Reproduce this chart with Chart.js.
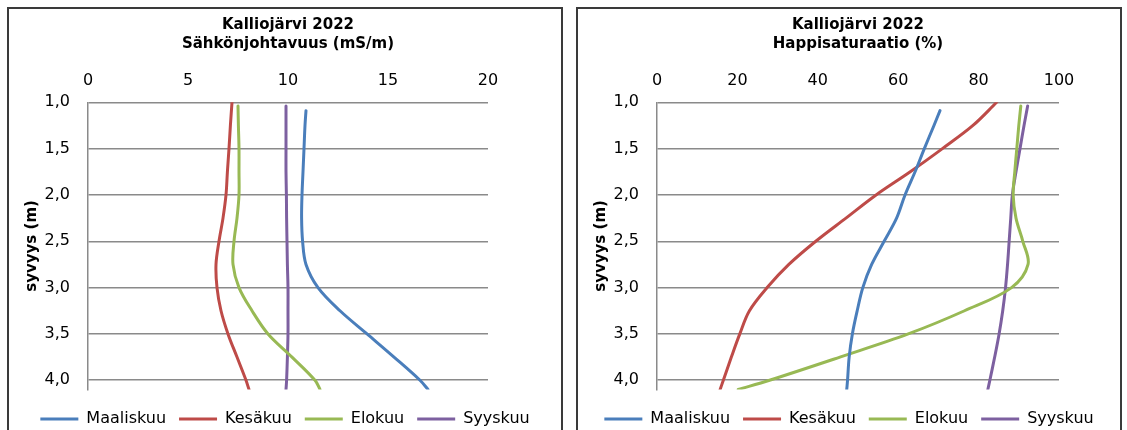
<!DOCTYPE html>
<html>
<head>
<meta charset="utf-8">
<script src="https://cdn.jsdelivr.net/npm/chart.js@4.4.0/dist/chart.umd.min.js"></script>
<style>
  html, body { margin: 0; padding: 0; background: #fff; }
  body { width: 1127px; height: 430px; overflow: hidden; position: relative; }
  .box { position: absolute; top: 7px; height: 450px; border: 2px solid #3a3a3a; box-sizing: border-box; background: #fff; }
  #boxLeft { left: 7px; width: 556px; }
  #boxRight { left: 576px; width: 546px; }
  canvas { display: block; }
</style>
</head>
<body>
<div class="box" id="boxLeft"><canvas id="condChart" width="552" height="440"></canvas></div>
<div class="box" id="boxRight"><canvas id="oxyChart" width="542" height="440"></canvas></div>
<script>
// Series and depths (depth in m)
const seriesNames = ['Maaliskuu', 'Kesäkuu', 'Elokuu', 'Syyskuu'];
const seriesColors = ['#4a7ebb', '#be4b48', '#98b954', '#7d60a0'];
const startDepths = [1.09, 1.0, 1.04, 1.04];
const depths = [1.25, 1.5, 1.75, 2.0, 2.25, 2.5, 2.75, 3.0, 3.25, 3.5, 3.75, 4.0, 4.1];
const depthTicks = [1.0, 1.5, 2.0, 2.5, 3.0, 3.5, 4.0];

// Sähkönjohtavuus (mS/m)
const condMaaliskuu = [10.9, 10.85, 10.8, 10.75, 10.7, 10.68, 10.73, 10.9, 11.5, 12.6, 13.95, 15.3, 16.6, 17.0];
const condKesakuu   = [7.2, 7.12, 7.05, 6.97, 6.9, 6.75, 6.55, 6.4, 6.45, 6.65, 7.0, 7.45, 7.9, 8.05];
const condElokuu    = [7.5, 7.52, 7.55, 7.55, 7.55, 7.45, 7.3, 7.25, 7.55, 8.2, 9.0, 10.2, 11.35, 11.6];
const condSyyskuu   = [9.9, 9.9, 9.9, 9.9, 9.92, 9.93, 9.95, 9.97, 10.0, 10.0, 10.0, 9.97, 9.93, 9.9];

// Happisaturaatio (%)
const oxyMaaliskuu = [70.4, 68.9, 66.5, 64.2, 61.7, 59.6, 56.5, 53.4, 51.2, 49.8, 48.6, 47.8, 47.4, 47.2];
const oxyKesakuu   = [84.5, 78.6, 71.0, 63.0, 54.5, 47.0, 39.5, 32.8, 27.4, 23.0, 20.6, 18.5, 16.5, 15.7];
const oxyElokuu    = [90.5, 90.0, 89.5, 89.0, 88.6, 89.3, 91.0, 92.3, 88.2, 76.5, 62.5, 45.5, 28.0, 20.2];
const oxySyyskuu   = [92.2, 91.3, 90.3, 89.3, 88.4, 88.0, 87.6, 87.2, 86.7, 86.0, 85.1, 84.0, 82.8, 82.3];

const fontFamily = '"DejaVu Sans", Verdana, sans-serif';
const gridColor = '#8a8a8a';

function buildChart(canvasId, subtitle, xMax, xStep, values, rightWidth) {
    const datasets = seriesNames.map((name, i) => ({
        label: name,
        data: [startDepths[i]].concat(depths).map((d, j) => ({ x: values[i][j], y: d })),
        borderColor: seriesColors[i],
        backgroundColor: seriesColors[i],
        borderWidth: 3,
        borderCapStyle: 'round',
        pointRadius: 0,
        showLine: true,
        tension: 0.35
    }));

    return new Chart(document.getElementById(canvasId), {
        type: 'scatter',
        data: { datasets },
        options: {
            responsive: false,
            animation: false,
            layout: { padding: { left: 0, right: 0, top: 0, bottom: 12 } },
            plugins: {
                title: {
                    display: true,
                    fullSize: false, // centre over the plot area
                    text: ['Kalliojärvi 2022', subtitle],
                    color: '#000',
                    font: { family: fontFamily, size: 15, weight: 'bold', lineHeight: 1.3 },
                    padding: { top: 6, bottom: 4 }
                },
                legend: {
                    position: 'bottom',
                    labels: {
                        usePointStyle: true,
                        pointStyle: 'line',
                        pointStyleWidth: 38,
                        color: '#000',
                        font: { family: fontFamily, size: 16 },
                        padding: 13
                    },
                    // empty title only pushes the legend row down
                    title: { display: true, text: '', font: { size: 1 }, padding: { top: 7.3, bottom: 0 } }
                },
                tooltip: { enabled: false }
            },
            scales: {
                x: {
                    type: 'linear',
                    position: 'top',
                    min: 0,
                    max: xMax,
                    ticks: { stepSize: xStep, padding: 11.7, color: '#000', font: { family: fontFamily, size: 16 } },
                    grid: { display: false, drawTicks: false },
                    border: { display: false },
                    afterFit: s => { s.height = 44.3; }
                },
                y: {
                    type: 'linear',
                    reverse: true,
                    min: 1,
                    max: 4.1,
                    afterBuildTicks: s => { s.ticks = depthTicks.map(v => ({ value: v })); },
                    ticks: {
                        padding: 18,
                        color: '#000',
                        font: { family: fontFamily, size: 16 },
                        callback: v => v.toFixed(1).replace('.', ',')
                    },
                    grid: { color: gridColor, lineWidth: 1.5, drawTicks: false },
                    border: { color: gridColor, width: 1.5 },
                    title: {
                        display: true,
                        text: 'syvyys (m)',
                        color: '#000',
                        font: { family: fontFamily, size: 15, weight: 'bold' },
                        padding: { top: 14.4, bottom: 0 }
                    },
                    afterFit: s => { s.width = 79; }
                },
                yR: {
                    type: 'linear',
                    position: 'right',
                    ticks: { display: false },
                    grid: { display: false, drawTicks: false },
                    border: { display: false },
                    afterFit: s => { s.width = rightWidth; }
                }
            }
        }
    });
}

buildChart('condChart', 'Sähkönjohtavuus (mS/m)', 20, 5,
    [condMaaliskuu, condKesakuu, condElokuu, condSyyskuu], 73);
buildChart('oxyChart', 'Happisaturaatio (%)', 100, 20,
    [oxyMaaliskuu, oxyKesakuu, oxyElokuu, oxySyyskuu], 61);
</script>
</body>
</html>
